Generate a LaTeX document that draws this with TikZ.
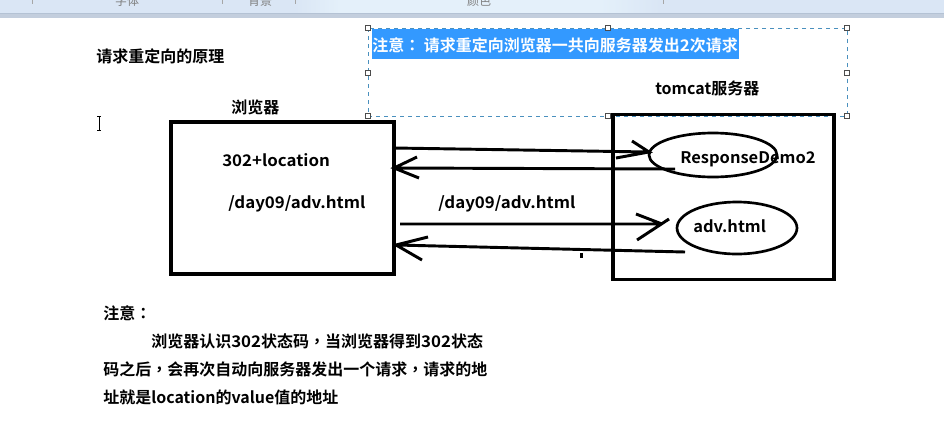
\documentclass[tikz,border=0pt]{standalone}
\usepackage{fontspec}
\setmainfont{Noto Sans CJK SC}
\newfontfamily\cjkb{Noto Sans CJK SC Bold}
\newfontfamily\punctb{Noto Sans CJK TC Bold}
\newfontfamily\latb{Noto Sans CJK SC Bold}[FakeStretch=1.055]
\newfontfamily\latc{Noto Sans CJK SC Bold}[FakeStretch=1.03]
\newcommand{\pc}[1]{{\punctb #1}}
\newcommand{\lt}[1]{{\latb #1}}
\newcommand{\lc}[1]{{\latc #1}}
\usetikzlibrary{shapes.geometric}
\definecolor{barA}{HTML}{DAE6F5}
\definecolor{barM}{HTML}{E4F0FA}
\definecolor{barB}{HTML}{C3CEDD}
\definecolor{barL}{HTML}{B4C2D4}
\definecolor{sel}{HTML}{3399FF}
\definecolor{frame}{HTML}{4A90BE}
\tikzset{
  txt/.style={anchor=west,inner sep=0pt,font=\cjkb\fontsize{12}{14}\selectfont,text=black},
  box/.style={draw=black,line width=2.3pt,inner sep=0pt},
  oval/.style={draw=black,line width=2pt,ellipse,inner sep=0pt},
  stroke/.style={draw=black,line width=2.2pt},
  handle/.style={draw=black!70,fill=white,line width=.5pt,minimum size=3.5pt,inner sep=0pt},
  tool/.style={anchor=center,inner sep=0pt,font=\fontsize{9}{10}\selectfont,text=black!50}
}
\begin{document}
\begin{tikzpicture}[x=0.75pt,y=-0.75pt]
\useasboundingbox (0,0) rectangle (944,446);
% toolbar
\fill[barA] (0,0) rectangle (944,13);
\shade[left color=barA,right color=barM] (295,0) rectangle (340,13);
\fill[barM] (340,0) rectangle (600,13);
\shade[left color=barM,right color=barA] (600,0) rectangle (660,13);
\fill[barB] (0,13) rectangle (944,18);
\fill[barL] (0,12.5) rectangle (944,13.5);
\begin{scope}
\clip (0,0) rectangle (944,12);
\node[tool] (t1) at (127,1) {字体};
\node[tool] (t2) at (260,1) {背景};
\node[tool] (t3) at (479,1) {颜色};
\end{scope}
\foreach \x in {32,222,295,663}{\draw[black!35,line width=.5pt] (\x,0)--(\x,4);}
% selection
\fill[sel] (372,29) rectangle (739,59);
\draw[frame,dashed,line width=.6pt] (368,28) rectangle (847,116);
\foreach \n/\p in {h1/{368,28},h2/{608,28},h3/{847,28},h4/{368,73},h5/{847,73},h6/{368,116},h7/{608,116},h8/{847,116}}{
  \node[handle] (\n) at (\p) {};
}
\node[txt,text=white] (sel) at (372,45) {注意\pc{：} 请求重定向浏览器一共向服务器发出\lt{2}次请求};
% titles
\node[txt] (title) at (96,56) {请求重定向的原理};
\node[txt] (brt) at (231,107) {浏览器};
\node[txt] (tct) at (655,88) {tomcat服务器};
% cursor
\draw[black,line width=.6pt] (99,117)--(99,130) (97,116.5)--(101,116.5) (97,130.5)--(101,130.5);
% boxes
\node[box,minimum width=223*0.75pt,minimum height=152*0.75pt] (browser) at (282.5,198) {};
\node[box,minimum width=221*0.75pt,minimum height=165*0.75pt] (server) at (723.5,197) {};
\node[oval,minimum width=128*0.75pt,minimum height=44*0.75pt] (rd) at (713,155) {};
\node[oval,minimum width=120*0.75pt,minimum height=52*0.75pt] (adv) at (737,228) {};
\node[txt] (rdt) at (680,159) {\lc{ResponseDemo2}};
\node[txt] (advt) at (693,226) {\lc{adv.html}};
\node[txt] (l1) at (222,160) {\lt{302+location}};
\node[txt] (l2) at (228,204) {\lt{/day09/adv.html}};
\node[txt] (l3) at (438,204) {\lt{/day09/adv.html}};
% connectors
\coordinate (a1s) at (394,148); \coordinate (a1e) at (649,152);
\coordinate (a1u) at (632,141); \coordinate (a1d) at (616,158);
\draw[stroke] (a1s)--(a1e) (a1u)--(a1e)--(a1d);
\coordinate (a2s) at (675,169); \coordinate (a2e) at (394,168);
\coordinate (a2u) at (417,157); \coordinate (a2d) at (419,178);
\draw[stroke] (a2s)--(a2e) (a2u)--(a2e)--(a2d);
\coordinate (a3s) at (400,224); \coordinate (a3e) at (662,224);
\coordinate (a3u) at (636,214); \coordinate (a3d) at (637,240); \coordinate (a3t) at (669,219);
\draw[stroke] (a3s)--(a3e) (a3u)--(a3e) (a3d)--(a3t);
\coordinate (a4s) at (685,252); \coordinate (a4e) at (396,245);
\coordinate (a4u) at (428,237); \coordinate (a4d) at (422,260);
\draw[stroke] (a4s)--(a4e) (a4u)--(a4e)--(a4d);
\fill[black] (580,253) rectangle (583,258);
% note
\node[txt] (n0) at (103,313) {注意\pc{：}};
\node[txt] (n1) at (151,341) {浏览器认识\lt{302}状态码\pc{，}当浏览器得到\lt{302}状态};
\node[txt] (n2) at (103,369) {码之后\pc{，}会再次自动向服务器发出一个请求\pc{，}请求的地};
\node[txt] (n3) at (103,397) {址就是location的value值的地址};
\end{tikzpicture}
\end{document}
